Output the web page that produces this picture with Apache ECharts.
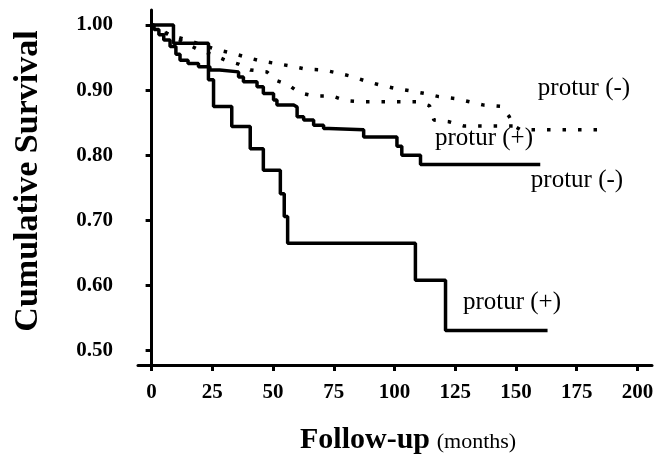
<!DOCTYPE html>
<html>
<head>
<meta charset="utf-8">
<script src="https://cdn.jsdelivr.net/npm/echarts@6/dist/echarts.min.js"></script>
<style>
  html, body { margin: 0; padding: 0; background: #fff; }
  #chart { width: 671px; height: 466px; }
</style>
</head>
<body>
<div id="chart"></div>
<script>
// tick labels
const xTicks = [0, 25, 50, 75, 100, 125, 150, 175, 200]
const yTicks = [0.5, 0.6, 0.7, 0.8, 0.9, 1.0]

// solid curve, protur (+) : Kaplan-Meier steps
const solidPlusMonths = [0, 9, 23.4, 25.5, 33, 40.6, 46, 53, 54.6, 56, 108.6, 121, 163]
const solidPlusSurv = [1.0, 0.972, 0.916, 0.875, 0.844, 0.81, 0.777, 0.741, 0.706, 0.665, 0.608, 0.531, 0.531]

// solid curve, protur (-)
const solidMinusMonths = [0, 1, 3, 5, 7.6, 10, 11.7, 15, 19.3, 24, 28, 35.8, 37.8, 43.4, 46, 50.2, 51.6, 58.5, 59.9, 62.6, 66.7, 70.8, 73, 87.3, 101, 103, 110.7, 160]
const solidMinusSurv = [1.0, 0.993, 0.985, 0.977, 0.967, 0.955, 0.946, 0.941, 0.936, 0.931, 0.928, 0.92, 0.913, 0.905, 0.895, 0.885, 0.877, 0.874, 0.859, 0.854, 0.846, 0.841, 0.839, 0.828, 0.814, 0.8, 0.786, 0.786]

// dotted curve, protur (-)
const dotMinusMonths = [0, 3, 10, 17, 27, 33, 38.5, 44.7, 51, 57.4, 63.7, 70.6, 76.8, 82.5, 88, 93.8, 99.7, 106.3, 112.3, 118.2, 125.1, 131, 136.8, 143.7, 147.1, 149.2, 152, 185]
const dotMinusSurv = [1.0, 0.99, 0.982, 0.974, 0.962, 0.957, 0.951, 0.945, 0.941, 0.937, 0.932, 0.931, 0.926, 0.921, 0.914, 0.908, 0.903, 0.899, 0.895, 0.89, 0.887, 0.882, 0.877, 0.875, 0.86, 0.845, 0.839, 0.839]

// dotted curve, protur (+)
const dotPlusMonths = [0, 10, 19.3, 25.5, 30.3, 35.8, 40.6, 47.5, 50.9, 56.4, 60.8, 66.7, 74.3, 79.8, 87, 109, 114.4, 116.2, 122.4, 128.5, 149.2]
const dotPlusSurv = [1.0, 0.98, 0.962, 0.954, 0.946, 0.94, 0.931, 0.928, 0.9155, 0.908, 0.896, 0.891, 0.891, 0.884, 0.882, 0.882, 0.876, 0.854, 0.8515, 0.845, 0.845]

const zip = (xs, ys) => xs.map((x, i) => [x, ys[i]])

const serif = '"Liberation Serif", "Times New Roman", serif'

const chart = echarts.init(document.getElementById('chart'))

const solidStyle = { color: '#000', width: 3.5 }
const dotStyle = { color: '#000', width: 3.5, type: [3.5, 12], cap: 'butt' }

chart.setOption({
  animation: false,
  backgroundColor: '#fff',
  grid: { left: 138, right: 19, top: 10, bottom: 101 },
  xAxis: {
    type: 'value',
    min: -5.6,
    max: 206,
    splitLine: { show: false },
    axisLine: { show: true, onZero: false, lineStyle: { color: '#000', width: 3 } },
    axisTick: { show: true, length: 6, customValues: xTicks, lineStyle: { color: '#000', width: 3 } },
    axisLabel: {
      customValues: xTicks,
      margin: 17,
      color: '#000',
      fontFamily: serif,
      fontWeight: 'bold',
      fontSize: 21
    }
  },
  yAxis: {
    type: 'value',
    min: 0.478,
    max: 1.023,
    splitLine: { show: false },
    axisLine: { show: true, lineStyle: { color: '#000', width: 3 } },
    axisTick: { show: true, length: 6, customValues: yTicks, lineStyle: { color: '#000', width: 3 } },
    axisLabel: {
      customValues: yTicks,
      margin: 25,
      color: '#000',
      fontFamily: serif,
      fontWeight: 'bold',
      fontSize: 21,
      formatter: v => v.toFixed(2)
    }
  },
  series: [
    { name: 'solid protur (+)', type: 'line', step: 'end', showSymbol: false, data: zip(solidPlusMonths, solidPlusSurv), lineStyle: solidStyle },
    { name: 'solid protur (-)', type: 'line', step: 'end', showSymbol: false, data: zip(solidMinusMonths, solidMinusSurv), lineStyle: solidStyle },
    { name: 'dotted protur (-)', type: 'line', showSymbol: false, data: zip(dotMinusMonths, dotMinusSurv), lineStyle: dotStyle },
    { name: 'dotted protur (+)', type: 'line', showSymbol: false, data: zip(dotPlusMonths, dotPlusSurv), lineStyle: dotStyle }
  ],
  graphic: [
    // axis titles
    {
      type: 'text', x: 28, y: 181, rotation: Math.PI / 2,
      style: {
        text: 'Cumulative Survival', fill: '#000',
        font: 'bold 34px ' + serif,
        align: 'center', verticalAlign: 'middle',
        textAlign: 'center', textVerticalAlign: 'middle'
      }
    },
    {
      type: 'text', x: 300, y: 440,
      style: {
        text: '{b|Follow-up}  {r|(months)}', fill: '#000',
        align: 'left', verticalAlign: 'middle',
        textAlign: 'left', textVerticalAlign: 'middle',
        rich: {
          b: { fontFamily: serif, fontWeight: 'bold', fontSize: 30, verticalAlign: 'bottom' },
          r: { fontFamily: serif, fontSize: 22, verticalAlign: 'bottom', padding: [0, 0, 2, 0] }
        }
      }
    },
    // curve labels
    {
      type: 'text', x: 584, y: 88,
      style: { text: 'protur (-)', fill: '#000', font: '25px ' + serif, align: 'center', verticalAlign: 'middle', textAlign: 'center', textVerticalAlign: 'middle' }
    },
    {
      type: 'text', x: 484, y: 138,
      style: { text: 'protur (+)', fill: '#000', font: '25px ' + serif, align: 'center', verticalAlign: 'middle', textAlign: 'center', textVerticalAlign: 'middle' }
    },
    {
      type: 'text', x: 577, y: 180,
      style: { text: 'protur (-)', fill: '#000', font: '25px ' + serif, align: 'center', verticalAlign: 'middle', textAlign: 'center', textVerticalAlign: 'middle' }
    },
    {
      type: 'text', x: 512, y: 302,
      style: { text: 'protur (+)', fill: '#000', font: '25px ' + serif, align: 'center', verticalAlign: 'middle', textAlign: 'center', textVerticalAlign: 'middle' }
    }
  ]
})
</script>
</body>
</html>
